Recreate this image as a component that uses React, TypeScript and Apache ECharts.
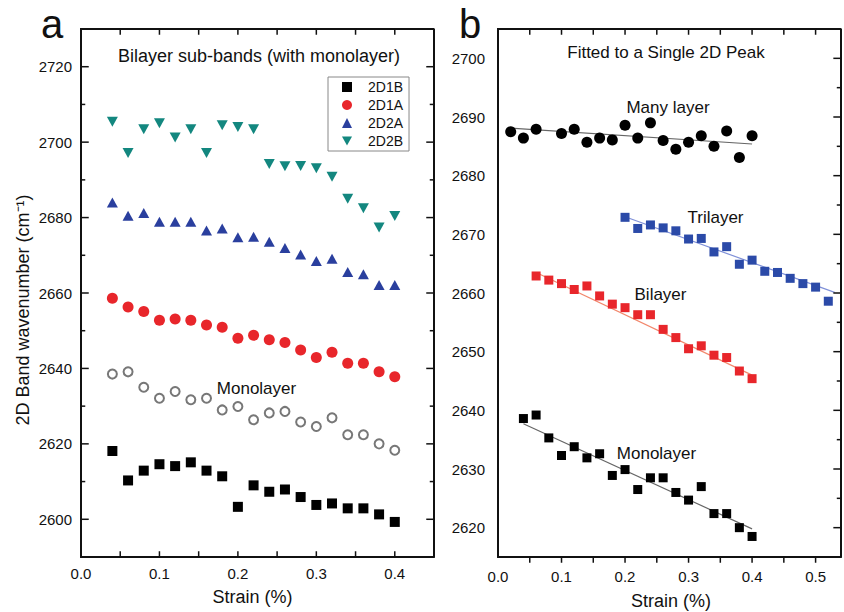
import React, { useEffect, useRef } from "react";
import * as echarts from "echarts";

// ---------- Panel a data ----------
const strainA = [0.04, 0.06, 0.08, 0.1, 0.12, 0.14, 0.16, 0.18, 0.2, 0.22, 0.24, 0.26, 0.28, 0.3, 0.32, 0.34, 0.36, 0.38, 0.4];
const d2D1B = [2618.1, 2610.3, 2612.9, 2614.6, 2614.1, 2615.1, 2612.9, 2611.4, 2603.3, 2609.0, 2607.3, 2607.9, 2605.9, 2603.8, 2604.2, 2602.9, 2602.9, 2601.3, 2599.3];
const d2D1A = [2658.6, 2656.3, 2655.1, 2652.8, 2653.1, 2652.8, 2651.5, 2650.9, 2648.0, 2648.8, 2647.6, 2646.9, 2644.9, 2642.9, 2644.3, 2641.4, 2641.4, 2639.1, 2637.8];
const d2D2A = [2684.0, 2680.5, 2681.2, 2678.9, 2678.9, 2678.9, 2676.6, 2677.1, 2674.8, 2674.9, 2673.6, 2671.9, 2670.2, 2668.5, 2669.1, 2665.6, 2665.0, 2662.1, 2662.1];
const d2D2B = [2705.4, 2697.1, 2703.4, 2705.0, 2701.2, 2703.4, 2697.1, 2704.5, 2704.0, 2703.4, 2694.2, 2693.6, 2693.7, 2693.1, 2690.8, 2685.0, 2682.5, 2677.4, 2680.4];
const monoA = [2638.5, 2639.1, 2635.0, 2632.1, 2633.9, 2631.7, 2632.1, 2629.0, 2629.9, 2626.4, 2628.2, 2628.6, 2625.8, 2624.6, 2626.9, 2622.4, 2622.4, 2620.0, 2618.3];
const xTicksA = [0.05, 0.1, 0.15, 0.2, 0.25, 0.3, 0.35, 0.4];
const yMajorA = [2600, 2620, 2640, 2660, 2680, 2700, 2720];
const yMinorA = [2610, 2630, 2650, 2670, 2690, 2710];

// ---------- Panel b data ----------
const strainMany = [0.02, 0.04, 0.06, 0.1, 0.12, 0.14, 0.16, 0.18, 0.2, 0.22, 0.24, 0.26, 0.28, 0.3, 0.32, 0.34, 0.36, 0.38, 0.4];
const many = [2687.5, 2686.4, 2687.9, 2687.2, 2687.9, 2685.7, 2686.4, 2686.1, 2688.6, 2686.4, 2689.0, 2686.0, 2684.5, 2685.7, 2686.8, 2685.0, 2687.6, 2683.1, 2686.8];
const strainTri = [0.2, 0.22, 0.24, 0.26, 0.28, 0.3, 0.32, 0.34, 0.36, 0.38, 0.4, 0.42, 0.44, 0.46, 0.48, 0.5, 0.52];
const tri = [2672.9, 2671.0, 2671.6, 2671.1, 2670.6, 2669.2, 2669.3, 2667.0, 2667.9, 2664.9, 2665.6, 2663.7, 2663.5, 2662.5, 2661.6, 2661.0, 2658.6];
const strainBi = [0.06, 0.08, 0.1, 0.12, 0.14, 0.16, 0.18, 0.2, 0.22, 0.24, 0.26, 0.28, 0.3, 0.32, 0.34, 0.36, 0.38, 0.4];
const bi = [2662.9, 2662.2, 2661.6, 2660.6, 2661.2, 2659.5, 2658.1, 2657.5, 2656.3, 2656.3, 2653.8, 2652.4, 2650.5, 2651.0, 2649.4, 2649.0, 2646.7, 2645.4];
const strainMonoB = [0.04, 0.06, 0.08, 0.1, 0.12, 0.14, 0.16, 0.18, 0.2, 0.22, 0.24, 0.26, 0.28, 0.3, 0.32, 0.34, 0.36, 0.38, 0.4];
const monoB = [2638.6, 2639.2, 2635.3, 2632.3, 2633.8, 2631.9, 2632.6, 2628.9, 2629.9, 2626.5, 2628.5, 2628.5, 2626.0, 2624.7, 2627.0, 2622.4, 2622.4, 2620.0, 2618.5];
const xTicksB = [0.05, 0.1, 0.15, 0.2, 0.25, 0.3, 0.35, 0.4, 0.45, 0.5];
const yMajorB = [2620, 2630, 2640, 2650, 2660, 2670, 2680, 2690, 2700];
const yMinorB = [2625, 2635, 2645, 2655, 2665, 2675, 2685, 2695];

// fitted lines (end points)
const fitManyX = [0.02, 0.4];
const fitManyY = [2688.1, 2685.4];
const fitTriX = [0.2, 0.53];
const fitTriY = [2673.0, 2660.1];
const fitBiX = [0.06, 0.4];
const fitBiY = [2663.5, 2646.0];
const fitMonoX = [0.04, 0.4];
const fitMonoY = [2637.7, 2619.8];

// axis extents
const X_MAX_A = 0.45;
const Y_MIN_A = 2590;
const Y_MAX_A = 2730;
const X_MAX_B = 0.54;
const Y_MIN_B = 2615;
const Y_MAX_B = 2705;

const FONT = "'Liberation Sans', Arial, Helvetica, sans-serif";
const INK = "#111";

const GRID_A = { left: 81, top: 29, width: 353, height: 528 };
const GRID_B = { left: 498, top: 29, width: 347, height: 528 };

const zip = (xs: number[], ys: number[]) => xs.map((x, i) => [x, ys[i]]);
const isMult = (v: number, step: number) => Math.abs(v / step - Math.round(v / step)) < 1e-6;

// frame + tick segments, expressed in data space so the axes place them
function frameSeries(
  axisIdx: number,
  grid: { width: number; height: number },
  xMax: number,
  yMin: number,
  yMax: number,
  xTicks: number[],
  yMajor: number[],
  yMinor: number[],
  outward: boolean
) {
  const xPerPx = xMax / grid.width;
  const yPerPx = (yMax - yMin) / grid.height;
  const seg = (pts: number[][], width: number) => ({
    type: "line",
    xAxisIndex: axisIdx,
    yAxisIndex: axisIdx,
    symbol: "none",
    silent: true,
    clip: false,
    z: 5,
    lineStyle: { color: INK, width, cap: "square" },
    data: pts,
  });
  const out: any[] = [
    seg([[0, yMax], [xMax, yMax], [xMax, yMin], [0, yMin], [0, yMax]], 2),
  ];
  const xLen = 5 * yPerPx;
  xTicks.forEach((v) => {
    out.push(seg([[v, yMin], [v, outward ? yMin - xLen : yMin + xLen]], 1.5));
    out.push(seg([[v, yMax], [v, yMax - xLen]], 1.5));
  });
  const yTick = (v: number, lenPx: number) => {
    const l = lenPx * xPerPx;
    out.push(seg([[0, v], [outward ? -l : l, v]], 1.5));
    out.push(seg([[xMax, v], [xMax - l, v]], 1.5));
  };
  yMajor.forEach((v) => yTick(v, 7));
  yMinor.forEach((v) => yTick(v, 3.5));
  return out;
}

export default function App() {
  const ref = useRef<HTMLDivElement>(null);

  useEffect(() => {
    if (!ref.current) return;
    const chart = echarts.init(ref.current, undefined, { renderer: "svg" });

    const xAxis = (grid: number, max: number, margin: number) => ({
      type: "value",
      gridIndex: grid,
      position: "bottom",
      min: 0,
      max,
      interval: 0.05,
      axisLine: { show: true, onZero: false, lineStyle: { color: INK, width: 2 } },
      axisTick: { show: false },
      axisLabel: {
        show: true,
        margin,
        fontFamily: FONT,
        fontSize: 15,
        color: INK,
        formatter: (v: number) => (isMult(v, 0.1) ? v.toFixed(1) : ""),
      },
      splitLine: { show: false },
    });

    const yAxis = (grid: number, min: number, max: number, interval: number, margin: number, majorStep: number) => ({
      type: "value",
      gridIndex: grid,
      position: "left",
      min,
      max,
      interval,
      axisLine: { show: true, onZero: false, lineStyle: { color: INK, width: 2 } },
      axisTick: { show: false },
      axisLabel: {
        show: true,
        margin,
        fontFamily: FONT,
        fontSize: 15,
        color: INK,
        formatter: (v: number) => (isMult(v, majorStep) ? String(Math.round(v)) : ""),
      },
      splitLine: { show: false },
    });

    const text = (t: string, x: number, y: number, size: number, extra: any = {}) => ({
      type: "text",
      x,
      y,
      silent: true,
      ...extra,
      style: {
        text: t,
        fontFamily: FONT,
        fontSize: size,
        fill: INK,
        textAlign: "center",
        textVerticalAlign: "middle",
      },
    });

    const downTri = "path://M0,0L10,0L5,9Z";

    const option: any = {
      animation: false,
      grid: [GRID_A, GRID_B],
      xAxis: [xAxis(0, X_MAX_A, 9), xAxis(1, X_MAX_B, 12)],
      yAxis: [yAxis(0, Y_MIN_A, Y_MAX_A, 10, 9, 20), yAxis(1, Y_MIN_B, Y_MAX_B, 5, 13, 10)],
      legend: {
        left: 328,
        top: 77,
        orient: "vertical",
        data: ["2D1B", "2D1A", "2D2A", "2D2B"],
        itemWidth: 10,
        itemHeight: 10,
        itemGap: 4,
        padding: [3, 6, 3, 14],
        borderColor: "#888",
        borderWidth: 1,
        selectedMode: false,
        textStyle: { fontFamily: FONT, fontSize: 14, color: INK, lineHeight: 14, padding: [0, 0, 0, 11] },
      },
      graphic: [
        text("a", 52, 24, 40),
        text("b", 470, 24, 40),
        text("Bilayer sub-bands (with monolayer)", 259, 56, 18),
        text("Fitted to a Single 2D Peak", 666, 52, 17),
        text("Monolayer", 256.5, 388, 17),
        text("Many layer", 668, 107, 17),
        text("Trilayer", 715.5, 217, 17),
        text("Bilayer", 660.5, 294, 17),
        text("Monolayer", 656.5, 453, 17),
        text("Strain (%)", 252.5, 597, 18),
        text("Strain (%)", 671, 601, 18),
        text("2D Band wavenumber (cm\u207B\u00B9)", 22.5, 310, 18, { rotation: Math.PI / 2 }),
      ],
      series: [
        ...frameSeries(0, GRID_A, X_MAX_A, Y_MIN_A, Y_MAX_A, xTicksA, yMajorA, yMinorA, false),
        ...frameSeries(1, GRID_B, X_MAX_B, Y_MIN_B, Y_MAX_B, xTicksB, yMajorB, yMinorB, true),
        {
          name: "Monolayer (a)",
          type: "scatter",
          xAxisIndex: 0,
          yAxisIndex: 0,
          symbol: "emptyCircle",
          symbolSize: 9,
          itemStyle: { color: "#777", borderColor: "#777", borderWidth: 1.3, opacity: 1 },
          data: zip(strainA, monoA),
        },
        {
          name: "2D1B",
          type: "scatter",
          xAxisIndex: 0,
          yAxisIndex: 0,
          symbol: "rect",
          symbolSize: 10,
          itemStyle: { color: "#000", opacity: 1 },
          data: zip(strainA, d2D1B),
        },
        {
          name: "2D1A",
          type: "scatter",
          xAxisIndex: 0,
          yAxisIndex: 0,
          symbol: "circle",
          symbolSize: 11,
          itemStyle: { color: "#e8262b", opacity: 1 },
          data: zip(strainA, d2D1A),
        },
        {
          name: "2D2A",
          type: "scatter",
          xAxisIndex: 0,
          yAxisIndex: 0,
          symbol: "triangle",
          symbolSize: [11, 10],
          itemStyle: { color: "#2a3f9e", opacity: 1 },
          data: zip(strainA, d2D2A),
        },
        {
          name: "2D2B",
          type: "scatter",
          xAxisIndex: 0,
          yAxisIndex: 0,
          symbol: downTri,
          symbolSize: [11, 10],
          itemStyle: { color: "#13877f", opacity: 1 },
          data: zip(strainA, d2D2B),
        },
        ...[
          [fitManyX, fitManyY, "#666"],
          [fitTriX, fitTriY, "#7f90d8"],
          [fitBiX, fitBiY, "#f2876c"],
          [fitMonoX, fitMonoY, "#666"],
        ].map(([xs, ys, c], i) => ({
          name: "fit" + i,
          type: "line",
          xAxisIndex: 1,
          yAxisIndex: 1,
          symbol: "none",
          z: 1,
          lineStyle: { color: c as string, width: 1.2 },
          data: zip(xs as number[], ys as number[]),
        })),
        {
          name: "Many layer",
          type: "scatter",
          xAxisIndex: 1,
          yAxisIndex: 1,
          symbol: "circle",
          symbolSize: 11,
          z: 3,
          itemStyle: { color: "#000", opacity: 1 },
          data: zip(strainMany, many),
        },
        {
          name: "Trilayer",
          type: "scatter",
          xAxisIndex: 1,
          yAxisIndex: 1,
          symbol: "rect",
          symbolSize: 9,
          z: 3,
          itemStyle: { color: "#2b4aa8", opacity: 1 },
          data: zip(strainTri, tri),
        },
        {
          name: "Bilayer",
          type: "scatter",
          xAxisIndex: 1,
          yAxisIndex: 1,
          symbol: "rect",
          symbolSize: 9,
          z: 3,
          itemStyle: { color: "#e8262b", opacity: 1 },
          data: zip(strainBi, bi),
        },
        {
          name: "Monolayer (b)",
          type: "scatter",
          xAxisIndex: 1,
          yAxisIndex: 1,
          symbol: "rect",
          symbolSize: 9,
          z: 3,
          itemStyle: { color: "#000", opacity: 1 },
          data: zip(strainMonoB, monoB),
        },
      ],
    };

    chart.setOption(option);
    return () => chart.dispose();
  }, []);

  return <div ref={ref} style={{ position: "absolute", left: 0, top: 0, width: 844, height: 612 }} />;
}
